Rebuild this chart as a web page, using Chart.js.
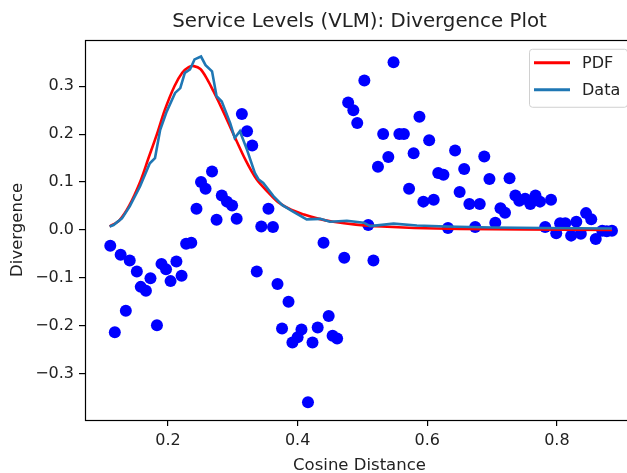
<!DOCTYPE html>
<html>
<head>
<meta charset="utf-8">
<script src="https://cdn.jsdelivr.net/npm/chart.js@4.4.1/dist/chart.umd.min.js"></script>
<style>
  html, body { margin: 0; padding: 0; background: #fff; overflow: hidden; }
  #wrap { width: 627px; height: 473px; overflow: hidden; }
</style>
</head>
<body>
<div id="wrap"><canvas id="chart" width="660" height="476"></canvas></div>
<script>
// scatter of measured divergence
const scatterX = [0.111, 0.118, 0.127, 0.135, 0.141, 0.152, 0.158, 0.166, 0.173, 0.183,
    0.190, 0.197, 0.204, 0.213, 0.221, 0.228, 0.236, 0.244, 0.251, 0.258,
    0.268, 0.275, 0.283, 0.291, 0.299, 0.306, 0.314, 0.322, 0.330, 0.337,
    0.344, 0.355, 0.362, 0.369, 0.376, 0.386, 0.392, 0.400, 0.406, 0.416,
    0.423, 0.431, 0.440, 0.448, 0.454, 0.461, 0.472, 0.478, 0.486, 0.492,
    0.503, 0.509, 0.517, 0.524, 0.532, 0.540, 0.548, 0.557, 0.564, 0.572,
    0.579, 0.588, 0.594, 0.603, 0.610, 0.617, 0.625, 0.632, 0.643, 0.650,
    0.657, 0.665, 0.674, 0.681, 0.688, 0.696, 0.705, 0.713, 0.720, 0.727,
    0.736, 0.742, 0.751, 0.759, 0.767, 0.774, 0.782, 0.791, 0.799, 0.805,
    0.813, 0.822, 0.830, 0.837, 0.845, 0.853, 0.860, 0.870, 0.877, 0.885];
const scatterY = [-0.033, -0.214, -0.052, -0.169, -0.064, -0.087, -0.119, -0.127, -0.101, -0.199,
    -0.071, -0.082, -0.107, -0.066, -0.096, -0.029, -0.027, 0.044, 0.100, 0.086,
    0.122, 0.021, 0.072, 0.059, 0.051, 0.023, 0.242, 0.206, 0.176, -0.087,
    0.007, 0.044, 0.006, -0.113, -0.206, -0.150, -0.235, -0.224, -0.208, -0.360,
    -0.235, -0.204, -0.027, -0.180, -0.221, -0.227, -0.058, 0.266, 0.250, 0.223,
    0.312, 0.010, -0.064, 0.132, 0.200, 0.152, 0.350, 0.200, 0.200, 0.086,
    0.160, 0.236, 0.059, 0.187, 0.063, 0.119, 0.115, 0.004, 0.166, 0.079,
    0.127, 0.054, 0.006, 0.054, 0.153, 0.106, 0.015, 0.045, 0.036, 0.108,
    0.072, 0.061, 0.065, 0.054, 0.072, 0.059, 0.006, 0.063, -0.007, 0.014,
    0.014, -0.012, 0.017, -0.008, 0.035, 0.022, -0.019, -0.002, -0.003, -0.002];

// fitted PDF curve
const pdfX = [0.110, 0.125, 0.140, 0.157, 0.170, 0.183, 0.195, 0.210, 0.222, 0.232,
    0.240, 0.250, 0.260, 0.270, 0.285, 0.301, 0.320, 0.337, 0.355, 0.370,
    0.390, 0.410, 0.430, 0.455, 0.490, 0.530, 0.580, 0.650, 0.750, 0.885];
const pdfY = [0.007, 0.020, 0.050, 0.100, 0.150, 0.200, 0.250, 0.300, 0.328, 0.340,
    0.342, 0.336, 0.316, 0.290, 0.248, 0.200, 0.145, 0.105, 0.078, 0.058,
    0.042, 0.032, 0.024, 0.017, 0.011, 0.007, 0.004, 0.002, 0.001, 0.000];

// histogram-like data curve
const dataX = [0.110, 0.116, 0.129, 0.141, 0.157, 0.172, 0.180, 0.188, 0.198, 0.211,
    0.219, 0.226, 0.234, 0.241, 0.251, 0.258, 0.268, 0.275, 0.283, 0.296,
    0.303, 0.311, 0.322, 0.334, 0.340, 0.347, 0.363, 0.376, 0.393, 0.414,
    0.435, 0.450, 0.476, 0.502, 0.512, 0.548, 0.584, 0.630, 0.700, 0.780, 0.885];
const dataY = [0.007, 0.010, 0.024, 0.049, 0.091, 0.139, 0.150, 0.209, 0.247, 0.286,
    0.296, 0.328, 0.335, 0.356, 0.362, 0.344, 0.331, 0.279, 0.268, 0.223,
    0.192, 0.206, 0.167, 0.119, 0.105, 0.098, 0.070, 0.052, 0.038, 0.022,
    0.023, 0.017, 0.019, 0.015, 0.008, 0.013, 0.009, 0.007, 0.005, 0.004, 0.003];

const xTicks = [0.2, 0.4, 0.6, 0.8];
const yTicks = [-0.3, -0.2, -0.1, 0.0, 0.1, 0.2, 0.3];

const FONT = 'DejaVu Sans';
const TEXT = '#222';

function toPoints(xs, ys) {
    return xs.map((x, i) => ({ x: x, y: ys[i] }));
}

function fmt(v) {
    const s = Math.abs(v).toFixed(1);
    return v < -1e-9 ? '\u2212' + s : s;
}

// matplotlib style box round the axes
const framePlugin = {
    id: 'frame',
    afterDatasetsDraw(chart) {
        const a = chart.chartArea;
        const ctx = chart.ctx;
        ctx.save();
        ctx.strokeStyle = '#000';
        ctx.lineWidth = 1.2;
        ctx.strokeRect(Math.round(a.left) + 0.5, Math.round(a.top) + 0.5,
            Math.round(a.right - a.left), Math.round(a.bottom - a.top));
        ctx.restore();
    }
};

// legend in the upper right corner of the axes
const legendPlugin = {
    id: 'boxLegend',
    afterDraw(chart) {
        const a = chart.chartArea;
        const ctx = chart.ctx;
        const items = chart.data.datasets.filter(d => d.type === 'line');
        const w = 98, h = 58;
        const x = a.right - 7 - w, y = a.top + 9;
        ctx.save();
        ctx.fillStyle = 'rgba(255,255,255,0.8)';
        ctx.strokeStyle = '#d0d0d0';
        ctx.lineWidth = 1;
        ctx.beginPath();
        ctx.roundRect(x + 0.5, y + 0.5, w, h, 3);
        ctx.fill();
        ctx.stroke();
        ctx.font = '16px ' + FONT;
        ctx.textBaseline = 'middle';
        items.forEach((d, i) => {
            const ly = y + 14 + i * 27;
            ctx.strokeStyle = d.borderColor;
            ctx.lineWidth = 3;
            ctx.beginPath();
            ctx.moveTo(x + 5, ly);
            ctx.lineTo(x + 41, ly);
            ctx.stroke();
            ctx.fillStyle = TEXT;
            ctx.fillText(d.label, x + 53, ly + 1);
        });
        ctx.restore();
    }
};

const ctx = document.getElementById('chart').getContext('2d');
new Chart(ctx, {
    data: {
        datasets: [
            {
                type: 'line', label: 'PDF', data: toPoints(pdfX, pdfY),
                borderColor: '#ff0000', borderWidth: 2.6, pointRadius: 0,
                tension: 0.3, fill: false, order: 1
            },
            {
                type: 'line', label: 'Data', data: toPoints(dataX, dataY),
                borderColor: '#1f77b4', borderWidth: 2.6, pointRadius: 0,
                tension: 0, fill: false, order: 0
            },
            {
                type: 'scatter', label: 'points', data: toPoints(scatterX, scatterY),
                backgroundColor: '#0000ff', borderColor: '#0000ff',
                pointRadius: 6, borderWidth: 0, order: 2
            }
        ]
    },
    options: {
        responsive: false,
        animation: false,
        layout: { padding: { left: 0, right: 26, top: 0, bottom: 0 } },
        plugins: {
            legend: { display: false },
            tooltip: { enabled: false },
            title: {
                display: true,
                fullSize: false,
                text: 'Service Levels (VLM): Divergence Plot',
                color: TEXT,
                font: { family: FONT, size: 19.8, weight: 'normal' },
                padding: { top: 10, bottom: 6 }
            }
        },
        scales: {
            x: {
                type: 'linear',
                min: 0.072, max: 0.919,
                afterBuildTicks: s => { s.ticks = xTicks.map(v => ({ value: v })); },
                afterFit: s => { s.height = 56; },
                ticks: {
                    color: TEXT, font: { family: FONT, size: 16 }, padding: 5,
                    callback: v => fmt(v), maxRotation: 0
                },
                grid: { drawOnChartArea: false, color: '#000', tickLength: 6, lineWidth: 1.2 },
                border: { display: false },
                title: {
                    display: true, text: 'Cosine Distance', color: TEXT,
                    font: { family: FONT, size: 16.5 }, padding: { top: 2, bottom: 0 }
                }
            },
            y: {
                type: 'linear',
                min: -0.397, max: 0.397,
                afterBuildTicks: s => { s.ticks = yTicks.map(v => ({ value: v })); },
                afterFit: s => { s.width = 85; },
                ticks: {
                    color: TEXT, font: { family: FONT, size: 16 }, padding: 5,
                    callback: v => fmt(v)
                },
                grid: { drawOnChartArea: false, color: '#000', tickLength: 6, lineWidth: 1.2 },
                border: { display: false },
                title: {
                    display: true, text: 'Divergence', color: TEXT,
                    font: { family: FONT, size: 16.5 }, padding: { top: 8, bottom: 4 }
                }
            }
        }
    },
    plugins: [framePlugin, legendPlugin]
});
</script>
</body>
</html>
